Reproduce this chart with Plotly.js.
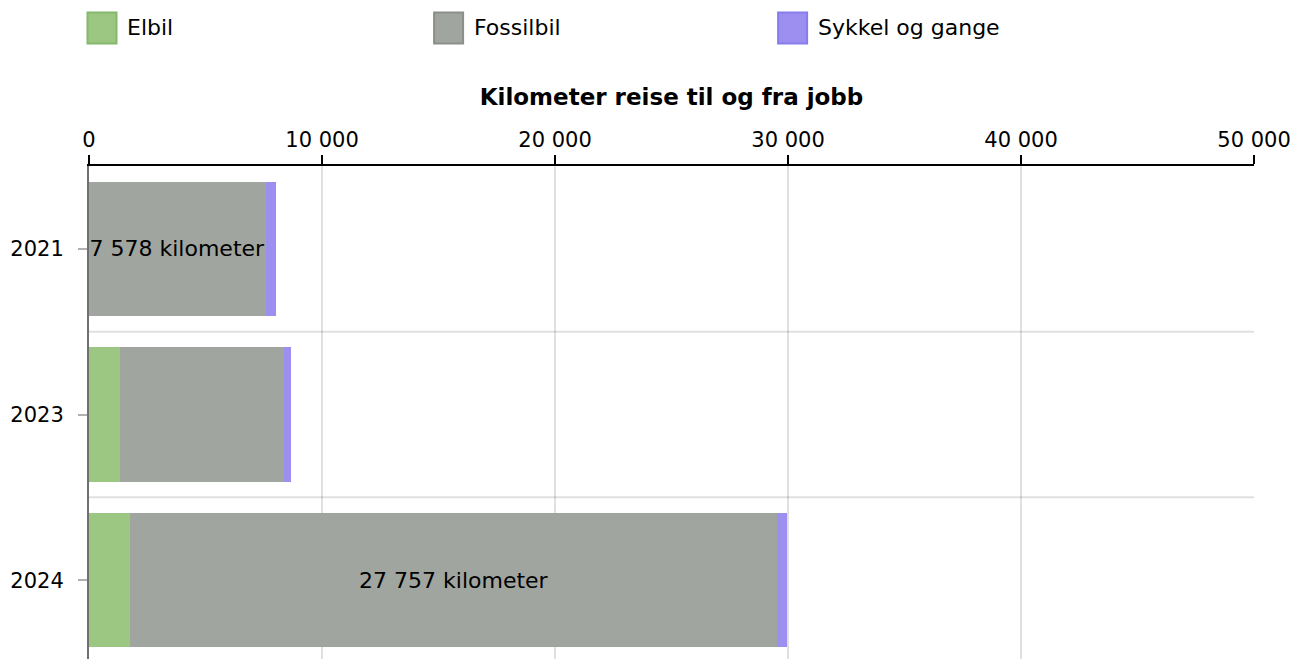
<!DOCTYPE html>
<html>
<head>
<meta charset="utf-8">
<script src="https://cdn.plot.ly/plotly-3.0.1.min.js"></script>
<style>html,body{margin:0;padding:0;background:#fff;}#chart{width:1296px;height:664px;}</style>
</head>
<body>
<div id="chart"></div>
<script>
const years = ['2021', '2023', '2024'];
const elbil = [0, 1310, 1780];
const fossilbil = [7578, 7050, 27757];
const sykkelOgGange = [440, 315, 400];
const showLabel = [true, false, true];
const seriesNames = ['Elbil', 'Fossilbil', 'Sykkel og gange'];
const seriesColors = ['#9cc782', '#a1a59f', '#9d8ff0'];
const seriesBorders = ['#84b86a', '#8b8e89', '#887cec'];
const xTicks = [0, 10000, 20000, 30000, 40000, 50000];
const axisTitle = 'Kilometer reise til og fra jobb';
const unit = 'kilometer';

function fmt(v) {
  return String(Math.round(v)).replace(/\B(?=(\d{3})+(?!\d))/g, '\u00a0');
}

const FONT = 'DejaVu Sans, Verdana, sans-serif';

const traces = [
  {type: 'bar', orientation: 'h', name: seriesNames[0], y: years, x: elbil,
   marker: {color: seriesColors[0], line: {width: 0}}, hoverinfo: 'x+name'},
  {type: 'bar', orientation: 'h', name: seriesNames[1], y: years, x: fossilbil,
   marker: {color: seriesColors[1], line: {width: 0}},
   text: fossilbil.map((v, i) => showLabel[i] ? fmt(v) + ' ' + unit : ''),
   textposition: 'inside', insidetextanchor: 'middle', textangle: 0,
   constraintext: 'none',
   textfont: {family: FONT, size: 22, color: '#000'}, hoverinfo: 'x+name'},
  {type: 'bar', orientation: 'h', name: seriesNames[2], y: years, x: sykkelOgGange,
   marker: {color: seriesColors[2], line: {width: 0}}, hoverinfo: 'x+name'}
];

// custom legend (large swatches)
const legendX = [0, 0.2975, 0.5928];
const shapes = [];
const annotations = [];
seriesNames.forEach((n, i) => {
  shapes.push({type: 'rect', xref: 'paper', yref: 'paper',
    xsizemode: 'pixel', ysizemode: 'pixel', xanchor: legendX[i], yanchor: 1.2777,
    x0: -1.5, x1: 27.5, y0: -15.5, y1: 15.5,
    fillcolor: seriesColors[i], line: {color: seriesBorders[i], width: 2}});
  annotations.push({xref: 'paper', yref: 'paper', x: legendX[i] + 0.031, y: 1.2777,
    xanchor: 'left', yanchor: 'middle', showarrow: false, text: n,
    font: {family: FONT, size: 22, color: '#000'}});
});
// horizontal grid lines between categories
for (let i = 0; i < years.length - 1; i++) {
  shapes.push({type: 'line', xref: 'paper', yref: 'y', x0: 0, x1: 1,
    y0: i + 0.5, y1: i + 0.5, line: {color: '#e0e0e0', width: 2}, layer: 'below'});
}

const layout = {
  width: 1296, height: 664,
  margin: {l: 89, r: 42, t: 166, b: 1},
  paper_bgcolor: '#fff', plot_bgcolor: '#fff',
  barmode: 'stack', bargap: 0.19,
  showlegend: false,
  font: {family: FONT, size: 21, color: '#000'},
  xaxis: {
    side: 'top', range: [0, 50000], tickvals: xTicks, ticktext: xTicks.map(fmt),
    showgrid: true, gridcolor: 'rgba(0,0,0,0.12)', gridwidth: 2,
    zeroline: false, showline: true, linecolor: '#000', linewidth: 2,
    ticks: 'outside', ticklen: 9, tickwidth: 2, tickcolor: '#000',
    tickfont: {family: FONT, size: 21, color: '#000'},
    layer: 'above traces',
    title: {text: axisTitle, font: {family: FONT, size: 23, color: '#000', weight: 'bold'}, standoff: 16}
  },
  yaxis: {
    type: 'category', categoryorder: 'array', categoryarray: years,
    range: [2.5, -0.5], autorange: false,
    showgrid: false, zeroline: false, showline: true, linecolor: '#6f6f6f', linewidth: 2,
    ticks: 'outside', ticklen: 9, tickwidth: 2, tickcolor: '#b0b0b0',
    ticklabelstandoff: 10,
    tickfont: {family: FONT, size: 21, color: '#000'},
    layer: 'above traces'
  },
  shapes: shapes,
  annotations: annotations
};

Plotly.newPlot('chart', traces, layout, {displayModeBar: false, staticPlot: true});
</script>
</body>
</html>
